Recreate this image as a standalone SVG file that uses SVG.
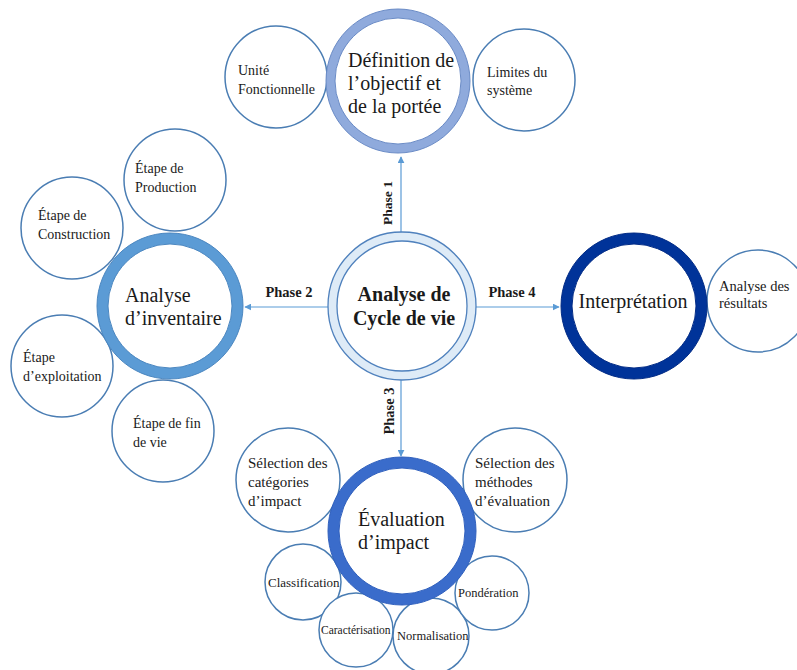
<svg xmlns="http://www.w3.org/2000/svg" width="797" height="670" viewBox="0 0 797 670">
<style>
.sc{fill:#fff;stroke:#4A7DB3;stroke-width:1.5}
.t{font-family:"Liberation Serif","Times New Roman",serif;fill:#1a1a1a}
.big{font-size:20px}
.sm{font-size:14px}
.md{font-size:15px}
.ph{font-size:14.5px;font-weight:bold}
.cn{stroke:#5B9BD5;stroke-width:1.2;fill:none;marker-end:url(#ah)}
</style>
<defs>
<marker id="ah" viewBox="0 0 10 10" refX="9" refY="5" markerWidth="7" markerHeight="7" markerUnits="userSpaceOnUse" orient="auto">
<path d="M0,0 L10,5 L0,10 z" fill="#5B9BD5"/>
</marker>
</defs>
<rect width="797" height="670" fill="#fff"/>

<g id="connectors">
<line class="cn" x1="401" y1="232" x2="401" y2="157"/>
<line class="cn" x1="328" y1="307" x2="245" y2="307"/>
<line class="cn" x1="476" y1="307" x2="559" y2="307"/>
<line class="cn" x1="401" y1="380" x2="401" y2="456"/>
<text class="t ph" transform="translate(392,203) rotate(-90)" text-anchor="middle" style="font-size:13.5px">Phase 1</text>
<text class="t ph" x="289" y="297" text-anchor="middle">Phase 2</text>
<text class="t ph" transform="translate(394,411) rotate(-90)" text-anchor="middle">Phase 3</text>
<text class="t ph" x="512" y="297" text-anchor="middle">Phase 4</text>
</g>

<g id="unite"><circle class="sc" cx="276" cy="77" r="51"/>
<text class="t sm" x="238" y="75">Unité</text><text class="t sm" x="238" y="94">Fonctionnelle</text></g>
<g id="limites"><circle class="sc" cx="524" cy="80" r="51"/>
<text class="t sm" x="487" y="77">Limites du</text><text class="t sm" x="487" y="95">système</text></g>

<g id="production"><circle class="sc" cx="175" cy="180" r="51"/>
<text class="t sm" x="135" y="173">Étape de</text><text class="t sm" x="135" y="192">Production</text></g>
<g id="construction"><circle class="sc" cx="72" cy="228" r="51"/>
<text class="t sm" x="38" y="220">Étape de</text><text class="t sm" x="38" y="239">Construction</text></g>
<g id="exploitation"><circle class="sc" cx="62" cy="366" r="51"/>
<text class="t sm" x="23" y="362">Étape</text><text class="t sm" x="23" y="381">d’exploitation</text></g>
<g id="findevie"><circle class="sc" cx="163" cy="431" r="51"/>
<text class="t sm" x="133" y="428">Étape de fin</text><text class="t sm" x="133" y="447">de vie</text></g>

<g id="resultats"><circle class="sc" cx="758" cy="301" r="51"/>
<text class="t sm" x="719" y="291" style="font-size:14.5px">Analyse des</text><text class="t sm" x="719" y="308" style="font-size:14.5px">résultats</text></g>

<g id="categories"><circle class="sc" cx="288" cy="480" r="52"/>
<text class="t md" x="248" y="468">Sélection des</text><text class="t md" x="248" y="487">catégories</text><text class="t md" x="248" y="506">d’impact</text></g>
<g id="methodes"><circle class="sc" cx="515" cy="480" r="52"/>
<text class="t md" x="475" y="468">Sélection des</text><text class="t md" x="475" y="487">méthodes</text><text class="t md" x="475" y="506">d’évaluation</text></g>

<g id="classification"><circle class="sc" cx="303" cy="582" r="38"/>
<text class="t" x="268" y="587" style="font-size:13px">Classification</text></g>
<g id="caracterisation"><circle class="sc" cx="356" cy="630" r="37"/>
<text class="t" x="321" y="634" style="font-size:11.5px">Caractérisation</text></g>
<g id="normalisation"><circle class="sc" cx="431" cy="636" r="38"/>
<text class="t" x="397" y="640" style="font-size:12.5px">Normalisation</text></g>
<g id="ponderation"><circle class="sc" cx="492" cy="593" r="37"/>
<text class="t" x="458" y="597" style="font-size:12.5px">Pondération</text></g>

<g id="definition">
<circle cx="398" cy="81" r="72" fill="#8FAADC" stroke="#6A8BC6" stroke-width="1"/>
<circle cx="398" cy="81" r="63" fill="#fff" stroke="#6A8BC6" stroke-width="1"/>
<text class="t big" x="348" y="67">Définition  de</text>
<text class="t big" x="348" y="90">l’objectif et</text>
<text class="t big" x="348" y="113">de la portée</text>
</g>

<g id="acv">
<circle cx="402" cy="306" r="74" fill="#DEEBF7" stroke="#4F81BD" stroke-width="1.3"/>
<circle cx="402" cy="306" r="65" fill="#fff" stroke="#4F81BD" stroke-width="1.3"/>
<text class="t big" x="404" y="301" text-anchor="middle" font-weight="bold">Analyse de</text>
<text class="t big" x="404" y="325" text-anchor="middle" font-weight="bold">Cycle de vie</text>
</g>

<g id="inventaire">
<circle cx="170" cy="306" r="73" fill="#5B9BD5" stroke="#4A86C0" stroke-width="1"/>
<circle cx="170" cy="306" r="62" fill="#fff" stroke="#4A86C0" stroke-width="1"/>
<text class="t big" x="125" y="302">Analyse</text>
<text class="t big" x="125" y="325">d’inventaire</text>
</g>

<g id="interpretation">
<circle cx="634" cy="306" r="73" fill="#003399" stroke="#002A85" stroke-width="1"/>
<circle cx="634" cy="306" r="62" fill="#fff" stroke="#002A85" stroke-width="1"/>
<text class="t big" x="633" y="308" text-anchor="middle">Interprétation</text>
</g>

<g id="evaluation">
<circle cx="402" cy="531" r="74" fill="#3A6CCB" stroke="#3060BD" stroke-width="1"/>
<circle cx="402" cy="531" r="63" fill="#fff" stroke="#3060BD" stroke-width="1"/>
<text class="t big" x="358" y="526">Évaluation</text>
<text class="t big" x="358" y="549">d’impact</text>
</g>
</svg>
